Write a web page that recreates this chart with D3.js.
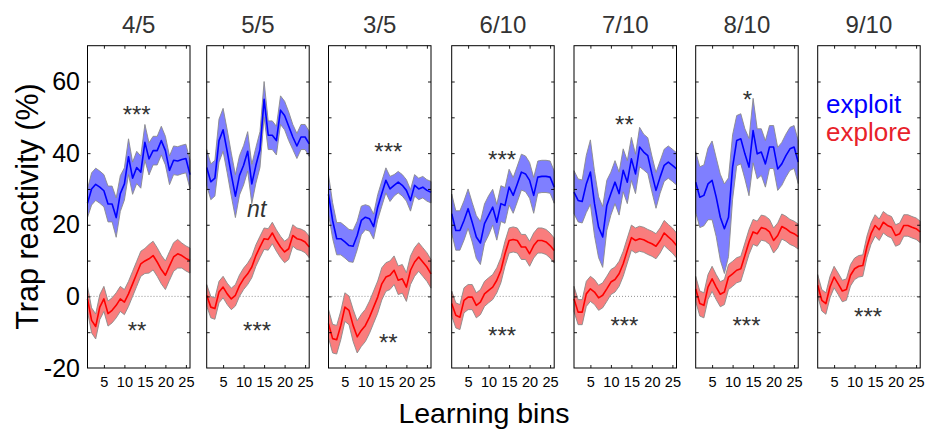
<!DOCTYPE html>
<html>
<head>
<meta charset="utf-8">
<script src="https://cdn.jsdelivr.net/npm/d3@7"></script>
<style>
  body { margin: 0; background: #fff; }
  svg { display: block; font-family: "Liberation Sans", Arial, sans-serif; }
</style>
</head>
<body>
<svg id="chart" width="931" height="430"></svg>
<script>
// panel titles
var panelTitles = ["4/5", "5/5", "3/5", "6/10", "7/10", "8/10", "9/10"];

var bins = [1, 2, 3, 4, 5, 6, 7, 8, 9, 10, 11, 12, 13, 14, 15, 16, 17, 18, 19, 20, 21, 22, 23, 24, 25, 26];
var xTickValues = [5, 10, 15, 20, 25];
var yTickLabels = [-20, 0, 20, 40, 60];
var yTickMarks = [-10, 0, 10, 20, 30, 40, 50, 60];

// exploit (blue), last panel has none
var exploitMean = [
    [26, 30, 31.3, 30.5, 29.5, 25.8, 25.8, 22, 28.7, 31.4, 39, 33, 36, 34.7, 43, 38.4, 40.7, 40.7, 43.5, 40.7, 35.2, 38, 37.8, 38.2, 38.5, 34],
    [36, 32, 33, 43.5, 46.5, 40.5, 34, 28, 33.8, 36.6, 40.5, 31.4, 36.6, 41, 55, 45, 45, 43.5, 52, 50.5, 47.5, 44.5, 42, 44.5, 44.5, 42.6],
    [28.5, 21.2, 16.1, 16.1, 15.2, 14.2, 14, 17, 21.2, 22.1, 21.7, 19.5, 24.9, 28.7, 32.4, 30, 31, 31.9, 31, 29.6, 26.8, 31, 30, 30.5, 29.6, 29.1],
    [23.1, 18.4, 18.4, 21.2, 24.5, 20.7, 16.6, 14.9, 20.3, 22.6, 24.9, 20.7, 25.9, 25.4, 30.5, 28.2, 31.4, 34.7, 34.2, 32.4, 28.2, 33.3, 33.5, 33.5, 33.3, 30.5],
    [29.1, 26.8, 26.5, 31.4, 34.7, 25.9, 19.3, 16.6, 25.4, 28.7, 31.9, 28.7, 35.2, 31.9, 38.4, 34.2, 41.7, 40.3, 39.3, 34.2, 29.6, 33.3, 36.6, 37.5, 36.6, 35.6],
    [31.9, 27.7, 28.2, 31.4, 32.4, 27.7, 22.1, 18.9, 22.1, 36.1, 43.5, 44, 39.8, 36.1, 46.3, 39.8, 40.3, 37, 41.7, 41.7, 35.6, 37, 39.3, 41.2, 41.7, 37.5],
    null
];
var exploitSem = [
    [4, 4.5, 4.5, 4.5, 4.5, 5, 5, 5.5, 5, 4.5, 5, 4.5, 4.5, 4.5, 5, 4.5, 4, 4, 4, 4, 4, 4, 4, 4, 4, 4],
    [5, 5, 5, 6, 6, 6, 6, 6, 5.5, 5.5, 5.5, 5.5, 5, 5, 5, 4, 4, 4, 4, 4, 4, 3.5, 3.5, 3.5, 3.5, 3.5],
    [5.5, 5, 4.5, 4.5, 4.5, 4.5, 4.5, 4, 4, 3.5, 3.5, 3.5, 3.5, 3.5, 3.5, 3.5, 3, 3, 3, 3, 3, 3, 3, 3, 3, 3],
    [5.5, 5.5, 5.5, 5.5, 5.5, 5.5, 6, 6, 5.5, 5.5, 5, 5, 5, 5, 5, 5, 5, 5, 5, 5, 5, 4.5, 4.5, 4.5, 4.5, 4.5],
    [6, 6, 6, 8, 9, 9, 8.5, 8.5, 7, 6, 6, 6, 6, 6, 6, 5.5, 5.5, 5, 5, 5, 5, 4.5, 4.5, 4.5, 4.5, 4.5],
    [8.5, 8.5, 8.5, 10, 11, 11, 12, 12.5, 11, 9, 7, 7, 7, 8, 9, 7, 6.5, 6.5, 6, 6, 6, 6, 6, 6, 6, 6],
    null
];

// explore (red)
var exploreMean = [
    [-0.7, -6.7, -8.4, -3, -0.7, -4.8, -3.9, -2.5, -0.7, -1.6, 0.7, 3.5, 6.3, 9.1, 9.9, 10.5, 11.4, 9.6, 7.5, 5.9, 8.5, 11, 11.9, 11.4, 10.6, 10],
    [0.3, -3, -3.4, 1.2, 2.6, 0.7, -0.7, 0.3, 3, 4.9, 6.3, 8.2, 11.4, 13.8, 16.1, 15.9, 17.7, 15.6, 13.8, 12.4, 13.3, 17, 16.1, 15.8, 15.2, 13.8],
    [-7.6, -11.8, -12.1, -8.1, -3, -3.9, -8.1, -11.3, -9.5, -8.1, -5.8, -3, -0.2, 3.5, 5.4, 5.9, 7.3, 4.5, 4.9, 2.6, 7.3, 9.6, 11, 9.6, 8.2, 6.3],
    [-2, -5.3, -5.8, -1.1, -0.2, -0.2, -2.5, -1.6, 0.7, 1.7, 2.6, 4.5, 7.3, 11.9, 15.6, 15.9, 15.6, 13.8, 13.8, 11.9, 14.2, 15.6, 15.6, 15.2, 14.2, 12.8],
    [-0.7, -4.4, -4.4, 0.7, 2.1, 1.2, -0.4, 0.3, 2.1, 4, 4.7, 6.3, 9.1, 12.8, 16.4, 15.6, 16.1, 15.8, 15.2, 14.7, 14, 15.6, 17.7, 16.6, 15.6, 14.2],
    [2.1, -2, -2.5, 2.6, 4.9, 2.6, 0.6, 1.2, 5.4, 6.3, 7.3, 7.7, 11.4, 15.2, 18, 17.5, 19.2, 18.9, 18, 15.6, 17, 19.5, 18.9, 18, 17.5, 16.7],
    [3.1, -1.1, -2, 2.6, 5.4, 3.5, 1.5, 1.9, 5.9, 7.7, 8.4, 8.6, 13.8, 17.5, 19.8, 18.6, 20.7, 19.8, 19.3, 17, 17.5, 19.8, 19.8, 19.3, 18.9, 18]
];
var exploreSem = [
    [3.5, 3.5, 3.5, 3.5, 3.5, 3.5, 3.5, 3.5, 3.5, 3.5, 3.5, 3.5, 3.5, 3.5, 3.5, 4, 4, 4, 4, 4, 4, 4, 4, 3.5, 3.5, 3.5],
    [3, 3, 3, 3, 3, 3, 3, 3, 3, 3, 3, 3, 3, 3, 3, 3, 3, 3, 3, 3, 3, 3, 3, 3, 3, 3],
    [4, 4, 4, 4, 4, 4, 4.5, 4.5, 4.5, 4.5, 4.5, 4.5, 4.5, 4.5, 4, 4, 4, 4, 4, 4, 4, 4, 4, 4, 4, 4],
    [3.5, 3.5, 3.5, 3.5, 3.5, 3.5, 3.5, 3.5, 3.5, 3.5, 3.5, 3.5, 3.5, 3.5, 3.5, 3.5, 3.5, 3.5, 3.5, 3.5, 3.5, 3.5, 3.5, 3.5, 3.5, 3.5],
    [3.5, 3.5, 3.5, 3.5, 3.5, 3.5, 3.5, 3.5, 3.5, 3.5, 3.5, 3.5, 3.5, 3.5, 3.5, 3.5, 3.5, 3.5, 3.5, 3.5, 3.5, 3.5, 3.5, 3.5, 3.5, 3.5],
    [3.5, 3.5, 3.5, 3.5, 3.5, 3.5, 3.5, 3.5, 3.5, 3.5, 3.5, 3.5, 3.5, 3.5, 3.5, 3.5, 3.5, 3.5, 3.5, 3.5, 3.5, 3.5, 3.5, 3.5, 3.5, 3.5],
    [3, 3, 3, 3, 3, 3, 3, 3, 3, 3, 3, 3, 3, 3, 3, 3, 3, 3, 3, 3, 3, 3, 3, 3, 3, 3]
];

// significance marks: panel index, text, bin, value (visual centre)
var annPanel = [0, 0, 1, 1, 2, 2, 3, 3, 4, 4, 5, 5, 6];
var annText = ["***", "**", "nt", "***", "***", "**", "***", "***", "**", "***", "*", "***", "***"];
var annBin = [13, 13.1, 13.2, 13.3, 15.6, 15.6, 13.3, 13.3, 13.3, 13.3, 13.6, 13.4, 13.3];
var annValue = [52.1, -8, 24.7, -8.2, 41.8, -11.5, 39.8, -9.4, 49.3, -6.6, 56.3, -6.6, -4.2];

var legendLabels = ["exploit", "explore"];
var legendColors = ["#0000ff", "#e8222a"];

// layout
var panelLeft = [87.5, 206.7, 328.5, 451.7, 574, 695.7, 817.7];
var panelWidth = 102.5;
var panelTop = 45.7;
var panelHeight = 322.3;

var svg = d3.select("#chart");

var x = d3.scaleLinear().domain([1, 26]).range([0, panelWidth]);
var y = d3.scaleLinear().domain([-20, 70]).range([panelHeight, 0]);

function drawSeries(g, mean, sem, fillColor, lineColor) {
    var rows = bins.map(function (b, i) {
        return { bin: b, m: mean[i], lo: mean[i] - sem[i], hi: mean[i] + sem[i] };
    });

    var area = d3.area()
        .x(function (d) { return x(d.bin); })
        .y0(function (d) { return y(d.lo); })
        .y1(function (d) { return y(d.hi); });

    var line = d3.line()
        .x(function (d) { return x(d.bin); })
        .y(function (d) { return y(d.m); });

    g.append("path")
        .datum(rows)
        .attr("d", area)
        .attr("fill", fillColor)
        .attr("stroke", "#8a8a8a")
        .attr("stroke-width", 0.9);

    g.append("path")
        .datum(rows)
        .attr("d", line)
        .attr("fill", "none")
        .attr("stroke", lineColor)
        .attr("stroke-width", 1.6)
        .attr("stroke-linejoin", "round");
}

panelTitles.forEach(function (title, p) {
    var g = svg.append("g")
        .attr("transform", "translate(" + panelLeft[p] + "," + panelTop + ")");

    // dotted zero line
    g.append("line")
        .attr("x1", 0)
        .attr("x2", panelWidth)
        .attr("y1", y(0))
        .attr("y2", y(0))
        .attr("stroke", "#777")
        .attr("stroke-width", 0.8)
        .attr("stroke-dasharray", "1,2");

    if (exploitMean[p] != null) {
        drawSeries(g, exploitMean[p], exploitSem[p], "#7f7fff", "#0000ff");
    }
    drawSeries(g, exploreMean[p], exploreSem[p], "#f97d7d", "#ff0000");

    // inward ticks on all four sides
    var tickAxes = [
        { axis: d3.axisLeft(y).tickValues(yTickMarks), tx: 0, ty: 0 },
        { axis: d3.axisRight(y).tickValues(yTickMarks), tx: panelWidth, ty: 0 },
        { axis: d3.axisTop(x).tickValues(xTickValues), tx: 0, ty: 0 }
    ];
    tickAxes.forEach(function (a) {
        var ag = g.append("g")
            .attr("transform", "translate(" + a.tx + "," + a.ty + ")")
            .call(a.axis.tickSizeInner(-3).tickSizeOuter(0).tickFormat(""));
        ag.select(".domain").remove();
        ag.selectAll("line").attr("stroke", "#000").attr("stroke-width", 0.9);
    });

    var xg = g.append("g")
        .attr("transform", "translate(0," + panelHeight + ")")
        .call(d3.axisBottom(x).tickValues(xTickValues).tickSizeInner(-3).tickSizeOuter(0).tickPadding(9));
    xg.select(".domain").remove();
    xg.selectAll("line").attr("stroke", "#000").attr("stroke-width", 0.9);
    xg.selectAll("text")
        .attr("fill", "#000")
        .style("font-size", "14.5px")
        .style("font-family", "'Liberation Sans', Arial, sans-serif");

    if (p == 0) {
        // plain hyphen for negatives, as in the original
        var yg = g.append("g")
            .call(d3.axisLeft(y).tickValues(yTickLabels).tickSize(0).tickPadding(7.5)
                .tickFormat(function (d) { return String(d); }));
        yg.select(".domain").remove();
        yg.selectAll("text")
            .attr("fill", "#000")
            .style("font-size", "25px")
            .style("font-family", "'Liberation Sans', Arial, sans-serif");
    }

    // frame
    g.append("rect")
        .attr("x", 0)
        .attr("y", 0)
        .attr("width", panelWidth)
        .attr("height", panelHeight)
        .attr("fill", "none")
        .attr("stroke", "#000")
        .attr("stroke-width", 1);

    // title
    g.append("text")
        .attr("x", panelWidth / 2)
        .attr("y", 33.3 - panelTop)
        .attr("text-anchor", "middle")
        .attr("fill", "#333")
        .style("font-size", "24px")
        .text(title);

    // significance marks
    annPanel.forEach(function (ap, i) {
        if (ap != p) return;
        var isNt = annText[i] == "nt";
        g.append("text")
            .attr("x", x(annBin[i]))
            .attr("y", y(annValue[i]))
            .attr("dy", isNt ? "0.38em" : "0.57em")
            .attr("text-anchor", "middle")
            .attr("fill", "#333")
            .style("font-size", isNt ? "23px" : "24px")
            .style("font-style", isNt ? "italic" : "normal")
            .text(annText[i]);
    });

    // legend sits in the last panel
    if (p == panelTitles.length - 1) {
        legendLabels.forEach(function (lab, i) {
            g.append("text")
                .attr("x", 826 - panelLeft[p])
                .attr("y", 113 + i * 28.5 - panelTop)
                .attr("fill", legendColors[i])
                .style("font-size", "26px")
                .text(lab);
        });
    }
});

// axis labels
svg.append("text")
    .attr("transform", "translate(37.5,206.5) rotate(-90)")
    .attr("text-anchor", "middle")
    .attr("fill", "#000")
    .style("font-size", "30.5px")
    .text("Trap reactivity (%)");

svg.append("text")
    .attr("x", 484)
    .attr("y", 423.3)
    .attr("text-anchor", "middle")
    .attr("fill", "#000")
    .style("font-size", "28.5px")
    .text("Learning bins");
</script>
</body>
</html>
